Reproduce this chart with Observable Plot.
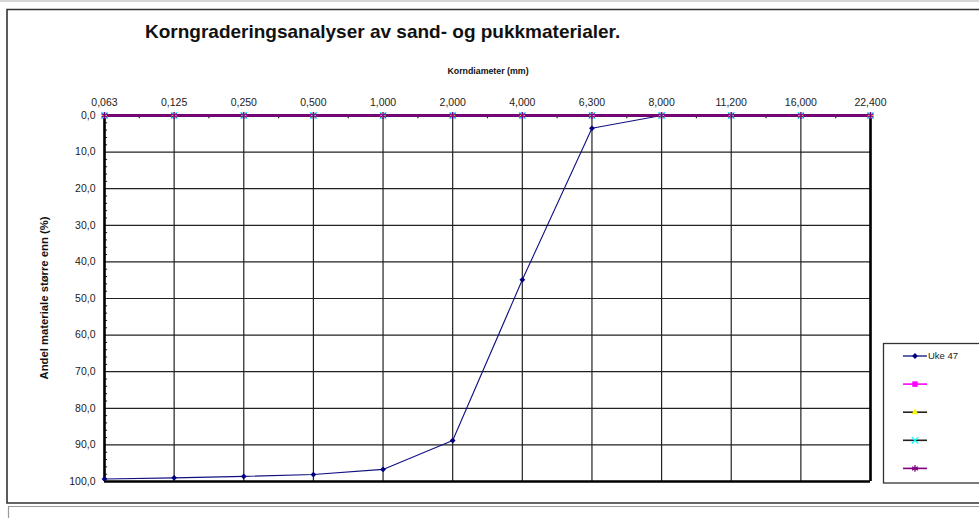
<!DOCTYPE html>
<html>
<head>
<meta charset="utf-8">
<script src="https://cdn.jsdelivr.net/npm/d3@7"></script>
<script src="https://cdn.jsdelivr.net/npm/@observablehq/plot@0.6"></script>
<style>
  html, body { margin: 0; padding: 0; background: #fff; }
  #chart { width: 979px; height: 518px; }
</style>
</head>
<body>
<div id="chart"></div>
<script>
// ---- data ----
const title = "Korngraderingsanalyser av sand- og pukkmaterialer.";
const xTitle = "Korndiameter (mm)";
const yTitle = "Andel materiale større enn (%)";
const sizes = ["0,063","0,125","0,250","0,500","1,000","2,000","4,000","6,300","8,000","11,200","16,000","22,400"];
const yTicks = [0,10,20,30,40,50,60,70,80,90,100];
const uke47 = [99.3, 99.0, 98.6, 98.1, 96.7, 88.8, 44.9, 3.5, 0, 0, 0, 0];
const serie2 = [0,0,0,0,0,0,0,0,0,0,0,0];
const serie3 = [0,0,0,0,0,0,0,0,0,0,0,0];
const serie4 = [0,0,0,0,0,0,0,0,0,0,0,0];
const serie5 = [0,0,0,0,0,0,0,0,0,0,0,0];
const seriesNames = ["Uke 47", "", "", "", ""];
const seriesValues = [uke47, serie2, serie3, serie4, serie5];

// styles per series
const styles = [
  {line: "#101080", lw: 1.1, sym: "diamond2", fill: "#000080", stroke: "none", r: 2.6, d3sym: d3.symbolDiamond2},
  {line: "#ff00ff", lw: 2.5, sym: "square2", fill: "#ff00ff", stroke: "none", r: 3.5, d3sym: d3.symbolSquare2},
  {line: "#222222", lw: 2.5, sym: "triangle2", fill: "#ffff00", stroke: "none", r: 3.2, d3sym: d3.symbolTriangle2},
  {line: "#222222", lw: 2.5, sym: "times", fill: "none", stroke: "#00ffff", r: 3.0, d3sym: d3.symbolTimes},
  {line: "#800080", lw: 2.5, sym: "asterisk", fill: "none", stroke: "#800080", r: 3.2, d3sym: d3.symbolAsterisk}
];

const idx = sizes.map((_, i) => i);
const table = seriesValues.map((vals, s) => vals.map((v, i) => ({i, v, s})));

const fmtY = d => d.toFixed(1).replace(".", ",");
const xMinor = d3.range(0.5, sizes.length - 1, 1);
const yMinor = d3.range(0, 100, 2).filter(v => v % 10 !== 0);
const gridInner = yTicks.filter(v => v > 0 && v < 100);

const seriesMarks = [];
table.forEach((rows, s) => {
  const st = styles[s];
  seriesMarks.push(Plot.line(rows, {x: "i", y: "v", stroke: st.line, strokeWidth: st.lw}));
});
table.forEach((rows, s) => {
  const st = styles[s];
  seriesMarks.push(Plot.dot(rows, {x: "i", y: "v", symbol: st.sym, fill: st.fill, stroke: st.stroke, strokeWidth: 1.3, r: st.r}));
});

const chart = Plot.plot({
  width: 979,
  height: 518,
  marginLeft: 104,
  marginRight: 109,
  marginTop: 115,
  marginBottom: 37,
  x: {type: "linear", domain: [0, sizes.length - 1]},
  y: {domain: [0, 100], reverse: true},
  style: {fontFamily: "'Liberation Sans', Arial, sans-serif", fontSize: "10.5px", color: "#222", background: "transparent", overflow: "visible"},
  marks: [
    Plot.ruleY(gridInner, {stroke: "#222", strokeWidth: 1.2}),
    Plot.ruleX(idx, {y1: 0, y2: 100, stroke: "#222", strokeWidth: 1.2}),
    Plot.ruleX(xMinor, {y1: 0, y2: 0.9, stroke: "#222", strokeWidth: 1.2}),
    Plot.ruleY(yMinor, {x1: 0, x2: 0.045, stroke: "#222", strokeWidth: 1}),
    Plot.ruleX([0, sizes.length - 1], {y1: 0, y2: 100, stroke: "#000", strokeWidth: 2.6}),
    Plot.ruleY([100], {stroke: "#000", strokeWidth: 2.6}),
    Plot.axisX(idx, {anchor: "top", tickSize: 0, tickPadding: 10, tickFormat: i => sizes[i], label: null}),
    Plot.axisY(yTicks, {anchor: "left", tickSize: 0, tickPadding: 9, tickFormat: fmtY, label: null}),
    ...seriesMarks
  ]
});
document.getElementById("chart").appendChild(chart);

// ---- decorations: page frame, titles, legend ----
const svg = d3.select(chart);
const font = "'Liberation Sans', Arial, sans-serif";
svg.append("line").attr("x1", 0).attr("x2", 979).attr("y1", 1).attr("y2", 1).attr("stroke", "#c8c8c8").attr("stroke-width", 1.5);
svg.append("path").attr("d", "M979,9.5 H7 V503 H979").attr("fill", "none").attr("stroke", "#333").attr("stroke-width", 1.6);
svg.append("path").attr("d", "M979,506.5 H8.5 V518").attr("fill", "none").attr("stroke", "#999").attr("stroke-width", 1.2);

svg.append("text").attr("x", 145).attr("y", 38).attr("text-anchor", "start").attr("font-family", font).attr("font-weight", "bold")
  .attr("font-size", 19).attr("fill", "#111").text(title);
svg.append("text").attr("x", 488).attr("y", 74).attr("text-anchor", "middle").attr("font-family", font)
  .attr("font-weight", "bold").attr("font-size", 8.8).attr("fill", "#111").text(xTitle);
svg.append("text").attr("transform", "translate(48,298) rotate(-90)").attr("text-anchor", "middle")
  .attr("font-family", font).attr("font-weight", "bold").attr("font-size", 10)
  .attr("textLength", 163).attr("lengthAdjust", "spacingAndGlyphs").attr("fill", "#111").text(yTitle);

const lg = svg.append("g");
lg.append("rect").attr("x", 883.5).attr("y", 343.5).attr("width", 120).attr("height", 139.5)
  .attr("fill", "#fff").attr("stroke", "#333").attr("stroke-width", 1.3);
seriesNames.forEach((name, s) => {
  const st = styles[s];
  const y = 356 + s * 28.1;
  lg.append("line").attr("x1", 903).attr("x2", 927).attr("y1", y).attr("y2", y)
    .attr("stroke", st.line).attr("stroke-width", s === 0 ? 1.3 : 1.6);
  const area = Math.PI * st.r * st.r;
  lg.append("path").attr("d", d3.symbol(st.d3sym, area)())
    .attr("transform", `translate(915,${y})`)
    .attr("fill", st.fill).attr("stroke", st.stroke).attr("stroke-width", 1.3);
  if (name) lg.append("text").attr("x", 928).attr("y", y + 3.3).attr("text-anchor", "start").attr("font-family", font)
    .attr("font-size", 9.5).attr("fill", "#222").text(name);
});
</script>
</body>
</html>
